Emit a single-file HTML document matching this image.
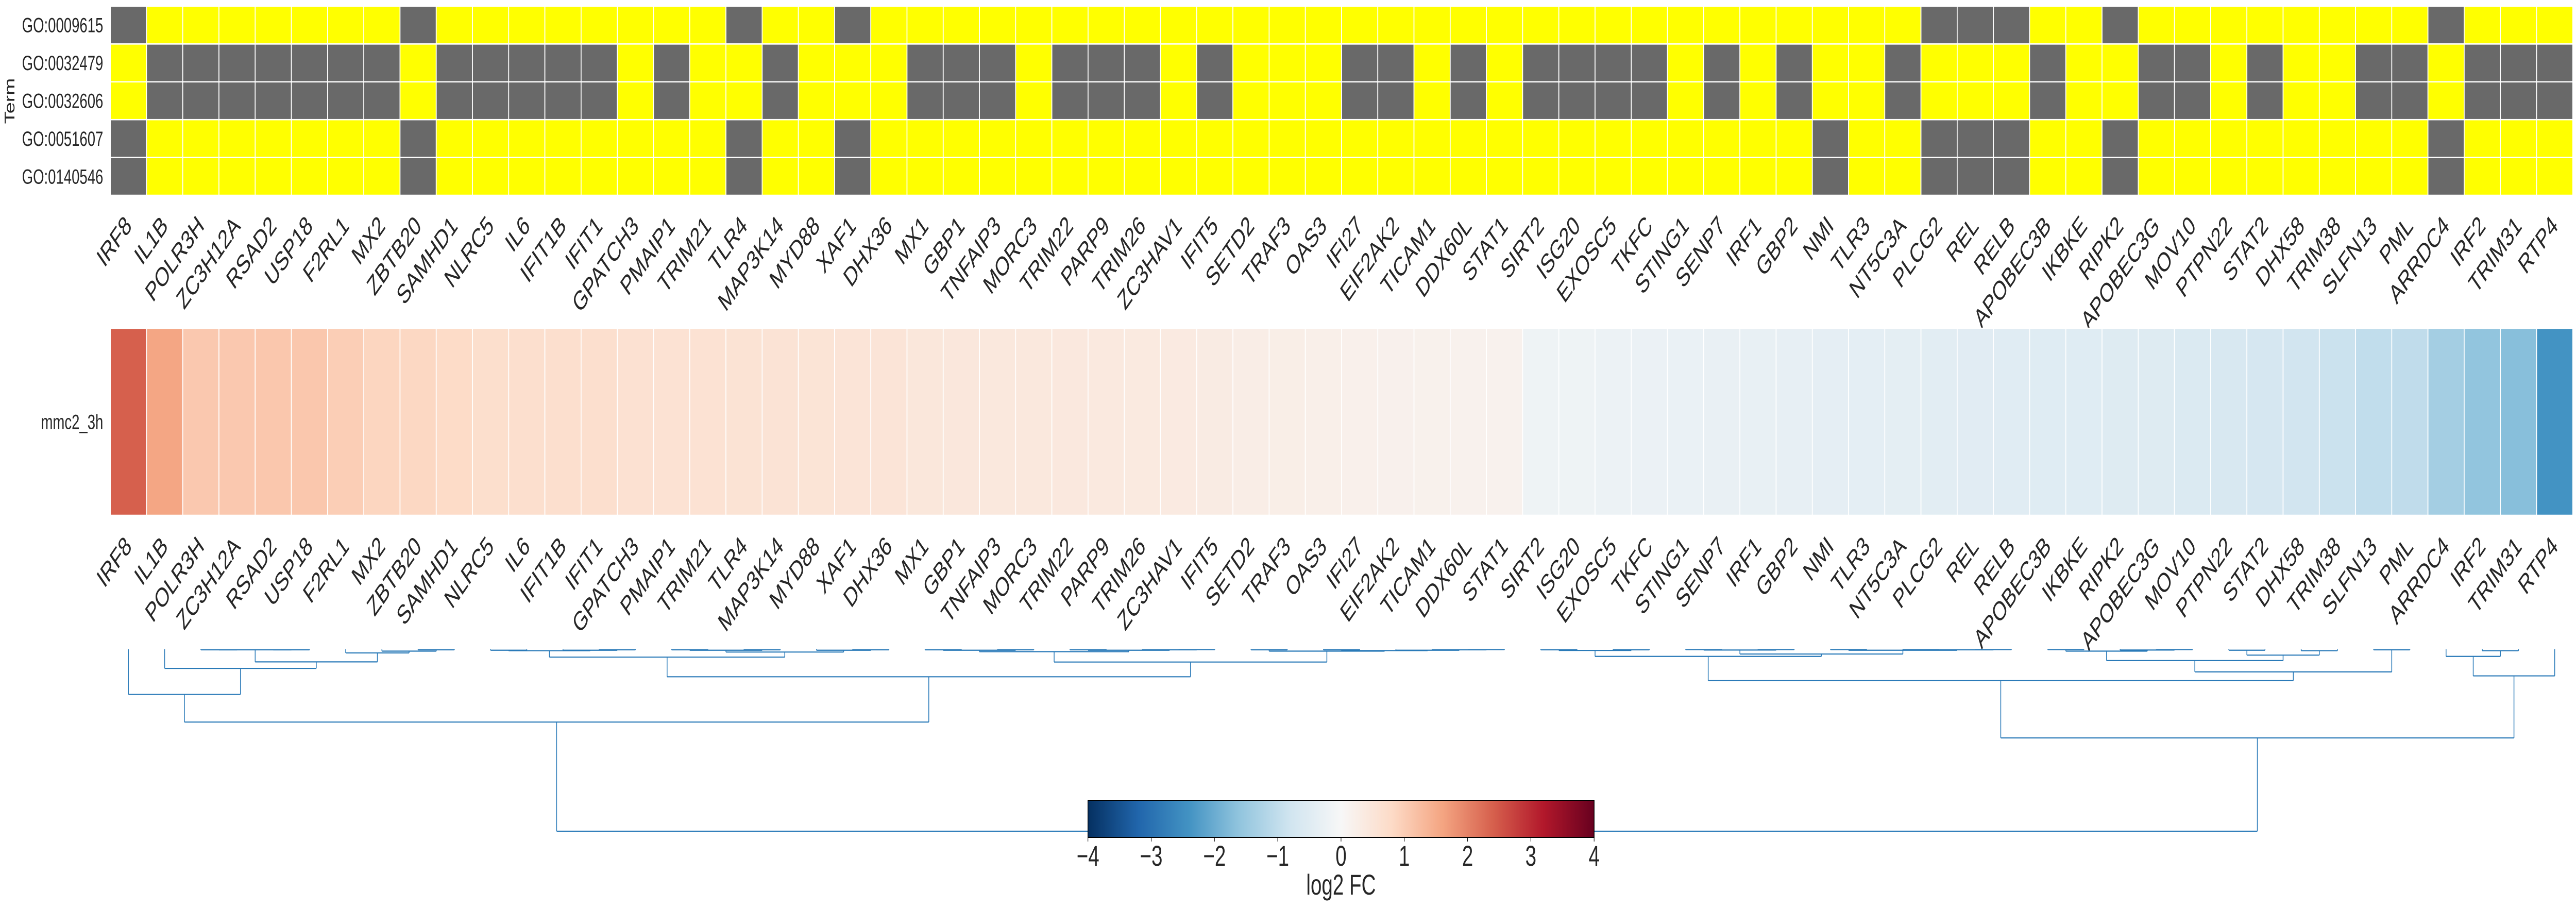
<!DOCTYPE html>
<html><head><meta charset="utf-8"><title>GO term membership and log2 FC heatmap</title>
<style>html,body{margin:0;padding:0;background:#fff;overflow:hidden;width:100%;height:100%;}svg{display:block;width:100vw;height:100vh;}text{font-family:"Liberation Sans",Arial,sans-serif;fill:#262626;}</style>
</head><body>
<svg id="chart" viewBox="0 0 7262 1762" preserveAspectRatio="none" xmlns="http://www.w3.org/2000/svg">
<defs>
<linearGradient id="rdbu" x1="0" x2="1" y1="0" y2="0">
<stop offset="0" stop-color="#053061"/><stop offset="0.1" stop-color="#2166ac"/><stop offset="0.2" stop-color="#4393c3"/><stop offset="0.3" stop-color="#92c5de"/><stop offset="0.4" stop-color="#d1e5f0"/><stop offset="0.5" stop-color="#f7f7f7"/><stop offset="0.6" stop-color="#fddbc7"/><stop offset="0.7" stop-color="#f4a582"/><stop offset="0.8" stop-color="#d6604d"/><stop offset="0.9" stop-color="#b2182b"/><stop offset="1" stop-color="#67001f"/>
</linearGradient>
</defs>
<g id="gtop"></g>
<g id="gmid"></g>
<g id="gdend"></g>
<g id="gcbar"></g>
</svg>
<script>
const genes = ["IRF8","IL1B","POLR3H","ZC3H12A","RSAD2","USP18","F2RL1","MX2","ZBTB20","SAMHD1","NLRC5","IL6","IFIT1B","IFIT1","GPATCH3","PMAIP1","TRIM21","TLR4","MAP3K14","MYD88","XAF1","DHX36","MX1","GBP1","TNFAIP3","MORC3","TRIM22","PARP9","TRIM26","ZC3HAV1","IFIT5","SETD2","TRAF3","OAS3","IFI27","EIF2AK2","TICAM1","DDX60L","STAT1","SIRT2","ISG20","EXOSC5","TKFC","STING1","SENP7","IRF1","GBP2","NMI","TLR3","NT5C3A","PLCG2","REL","RELB","APOBEC3B","IKBKE","RIPK2","APOBEC3G","MOV10","PTPN22","STAT2","DHX58","TRIM38","SLFN13","PML","ARRDC4","IRF2","TRIM31","RTP4"];
const terms = ["GO:0009615","GO:0032479","GO:0032606","GO:0051607","GO:0140546"];
const grayGO0009615 = [0,8,17,20,50,51,52,55,64];
const grayGO0032479 = [1,2,3,4,5,6,7,9,10,11,12,13,15,18,22,23,24,26,27,28,30,34,35,37,39,40,41,42,44,46,49,53,56,57,59,62,63,65,66,67];
const grayGO0032606 = [1,2,3,4,5,6,7,9,10,11,12,13,15,18,22,23,24,26,27,28,30,34,35,37,39,40,41,42,44,46,49,53,56,57,59,62,63,65,66,67];
const grayGO0051607 = [0,8,17,20,47,50,51,52,55,64];
const grayGO0140546 = [0,8,17,20,47,50,51,52,55,64];
const log2fc = [2.4,1.58,1.08,1.08,1.1,1.1,1.0,0.88,0.85,0.78,0.7,0.68,0.68,0.68,0.62,0.6,0.6,0.58,0.57,0.55,0.54,0.53,0.46,0.45,0.44,0.43,0.42,0.4,0.38,0.36,0.33,0.28,0.26,0.24,0.2,0.19,0.18,0.17,0.16,-0.18,-0.2,-0.24,-0.25,-0.28,-0.3,-0.32,-0.34,-0.38,-0.4,-0.41,-0.45,-0.47,-0.49,-0.5,-0.5,-0.52,-0.53,-0.6,-0.65,-0.7,-0.78,-0.88,-1.0,-1.02,-1.37,-1.6,-1.7,-2.4];
const cbarTicks = [-4,-3,-2,-1,0,1,2,3,4];
// dendrogram tree: [left, right, mergeHeight]
const treeLeft = [[0,[1,[[[2,3,0.3],[4,5,0.3],0.3],[6,[7,[8,9,0.3],1],2],6.9],10.5],24.8],
 [[[[10,11,0.5],[12,[13,14,0.3],0.5],0.8],[[[15,16,0.3],[17,18,0.3],0.5],[19,[20,21,0.3],0.5],1.5],4.3],
  [[[[22,23,0.3],[24,25,0.3],0.5],[[26,27,0.3],[28,[29,30,0.2],0.3],0.5],1.3],[[31,32,0.3],[[33,34,0.3],[35,[36,[37,38,0.2],0.3],0.5],0.7],1.0],7.0],15.1],40];
const treeRight = [[[[[39,40,0.3],[41,42,0.3],0.6],[[[43,44,0.2],[45,46,0.2],0.4],[[47,48,0.2],[[49,50,0.2],[51,52,0.2],0.3],0.5],2.6],3.9],
  [[[[53,54,0.2],[55,[56,57,0.2],0.4],1.0],[[58,59,0.5],[60,61,0.8],3.2],6.2],[62,63,0.3],12.4],17.2],
  [[64,[65,66,0.8],3.9],67,14.6],48.7];
const rootHeight = 100;

const NS="http://www.w3.org/2000/svg";
function mk(tag,attrs,parent){const e=document.createElementNS(NS,tag);for(const k in attrs)e.setAttribute(k,attrs[k]);parent.appendChild(e);return e;}
const X0=311, X1=7253, NG=genes.length, CW=(X1-X0)/NG;
const xc=i=>X0+CW*(i+0.5);
const cstops=[[0,[5,48,97]],[0.1,[33,102,172]],[0.2,[67,147,195]],[0.3,[146,197,222]],[0.4,[209,229,240]],[0.5,[247,247,247]],[0.6,[253,219,199]],[0.7,[244,165,130]],[0.8,[214,96,77]],[0.9,[178,24,43]],[1,[103,0,31]]];
function cmap(v){let t=Math.max(0,Math.min(1,0.5+v/8));for(let k=0;k<cstops.length-1;k++){const a=cstops[k],b=cstops[k+1];if(t<=b[0]){const f=(t-a[0])/(b[0]-a[0]);const c=a[1].map((x,j)=>Math.round(x+(b[1][j]-x)*f));return `rgb(${c[0]},${c[1]},${c[2]})`;}}return "rgb(103,0,31)";}

const gTop=document.getElementById('gtop');
const grayLists=[grayGO0009615,grayGO0032479,grayGO0032606,grayGO0051607,grayGO0140546];
const TY0=12, RH=73.4;
terms.forEach((t,r)=>{
  genes.forEach((g,i)=>{
    const rc=mk('rect',{x:X0+CW*i,y:TY0+RH*r,width:CW,height:RH,fill:grayLists[r].includes(i)?'#696969':'#ffff00',stroke:'#fff','stroke-width':2.5},gTop);
    
    
  });
  const tx=mk('text',{x:291,y:TY0+RH*r+RH/2+14,'text-anchor':'end','font-size':40},gTop);
  tx.textContent=t;
  
  
});
const tt=mk('text',{x:0,y:0,'text-anchor':'middle','font-size':40,transform:'translate(41,196) rotate(-90)'},gTop);
tt.textContent='Term';


genes.forEach((g,i)=>{
  const t1=mk('text',{'text-anchor':'end','font-size':52,transform:`translate(${xc(i)+12},441) rotate(-45)`},gTop);
  t1.textContent=g;
  
  
});

const gMid=document.getElementById('gmid');
const MY0=637, MH=363;
genes.forEach((g,i)=>{
  const rc=mk('rect',{x:X0+CW*i,y:MY0,width:CW,height:MH,fill:cmap(log2fc[i]),stroke:'#fff','stroke-width':2.5},gMid);
  
  
  const t2=mk('text',{'text-anchor':'end','font-size':52,transform:`translate(${xc(i)+12},1063) rotate(-45)`},gMid);
  t2.textContent=g;
  
  
});
const ml=mk('text',{x:291,y:MY0+MH/2+14,'text-anchor':'end','font-size':40},gMid);
ml.textContent='mmc2_3h';



const gDend=document.getElementById('gdend');
const LEAFY=1260, DS=3.53;
const yd=d=>LEAFY+d*DS;
function dline(x1,y1,x2,y2){const l=mk('line',{x1:x1,y1:y1,x2:x2,y2:y2,stroke:'#2a7ab8','stroke-width':2.2},gDend);}
function drawNode(node){
  if(typeof node==='number')return {x:xc(node),y:LEAFY};
  const a=drawNode(node[0]),b=drawNode(node[1]),y=yd(node[2]);
  dline(a.x,a.y,a.x,y);dline(b.x,b.y,b.x,y);dline(a.x,y,b.x,y);
  return {x:(a.x+b.x)/2,y:y};
}
drawNode([treeLeft,treeRight,rootHeight]);

const gCb=document.getElementById('gcbar');
const CX0=3067,CX1=4494,CY0=1553,CY1=1625;
const cr=mk('rect',{x:CX0,y:CY0,width:CX1-CX0,height:CY1-CY0,fill:'url(#rdbu)',stroke:'#000','stroke-width':2},gCb);


const cbx=v=>CX0+(v+4)/8*(CX1-CX0);
cbarTicks.forEach(v=>{
  const tk=mk('line',{x1:cbx(v),x2:cbx(v),y1:CY1,y2:CY1+8,stroke:'#000','stroke-width':1.5},gCb);
  
  
  const tl=mk('text',{x:cbx(v),y:1680,'text-anchor':'middle','font-size':56,fill:'#000'},gCb);
  tl.textContent=v<0?'\u2212'+Math.abs(v):String(v);
  
  
});
const ct=mk('text',{x:(CX0+CX1)/2,y:1736,'text-anchor':'middle','font-size':56,fill:'#000'},gCb);
ct.textContent='log2 FC';


</script>
</body></html>
